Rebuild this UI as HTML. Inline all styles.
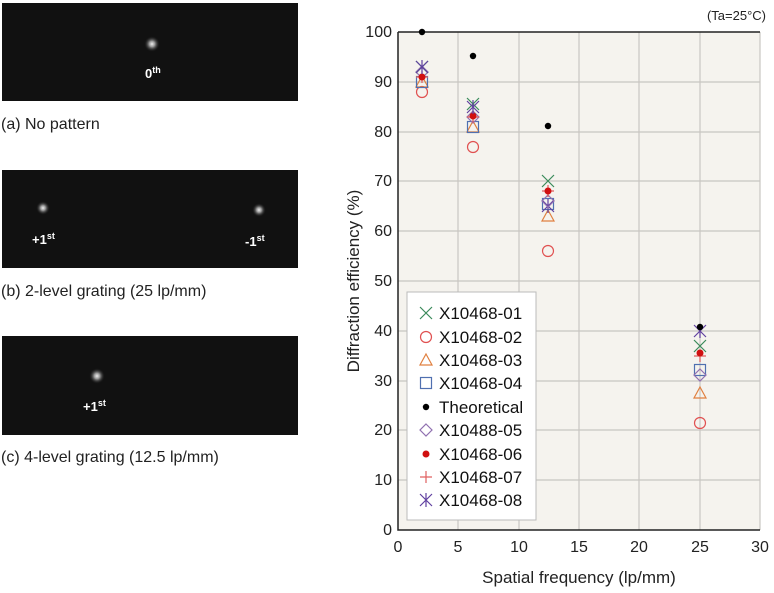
<!DOCTYPE html>
<html><head><meta charset="utf-8"><style>
body{margin:0;background:#fff;width:774px;height:588px;overflow:hidden;font-family:"Liberation Sans",sans-serif}
</style></head><body>
<svg width="774" height="588" xmlns="http://www.w3.org/2000/svg" font-family="Liberation Sans, DejaVu Sans, sans-serif">
<defs>
<radialGradient id="spot"><stop offset="0" stop-color="#eee"/><stop offset="0.35" stop-color="#999"/><stop offset="1" stop-color="#111" stop-opacity="0"/></radialGradient>
<g id="mX"><path d="M-6,-6L6,6M-6,6L6,-6" stroke="#3a8a5a" stroke-width="1.2" fill="none"/></g>
<g id="mO"><circle r="5.5" stroke="#e05050" stroke-width="1.2" fill="none"/></g>
<g id="mT"><path d="M0,-6L6,5L-6,5Z" stroke="#e08040" stroke-width="1.2" fill="none"/></g>
<g id="mS"><rect x="-5.5" y="-5.5" width="11" height="11" stroke="#5070b0" stroke-width="1.2" fill="none"/></g>
<g id="mB"><circle r="3.2" fill="#000"/></g>
<g id="mD"><path d="M0,-6L6,0L0,6L-6,0Z" stroke="#9070b0" stroke-width="1.2" fill="none"/></g>
<g id="mR"><circle r="3.5" fill="#d01010"/></g>
<g id="mP"><path d="M-6,0H6M0,-6V6" stroke="#e06060" stroke-width="1.2"/></g>
<g id="mA"><path d="M-6,-6L6,6M-6,6L6,-6M0,-7V7" stroke="#6040a0" stroke-width="1.2"/></g>
</defs>
<!-- images -->
<rect x="2" y="3" width="296" height="98" fill="#111"/>
<circle cx="152" cy="44" r="8" fill="url(#spot)"/>
<text x="145" y="78" fill="#fff" font-size="13" font-weight="bold">0<tspan font-size="9" dy="-5">th</tspan></text>
<text x="1" y="129" font-size="16" fill="#222">(a) No pattern</text>
<rect x="2" y="170" width="296" height="98" fill="#111"/>
<circle cx="43" cy="208" r="7" fill="url(#spot)"/>
<circle cx="259" cy="210" r="7" fill="url(#spot)"/>
<text x="32" y="244" fill="#fff" font-size="13" font-weight="bold">+1<tspan font-size="9" dy="-5">st</tspan></text>
<text x="245" y="246" fill="#fff" font-size="13" font-weight="bold">-1<tspan font-size="9" dy="-5">st</tspan></text>
<text x="1" y="296" font-size="16" fill="#222">(b) 2-level grating (25 lp/mm)</text>
<rect x="2" y="336" width="296" height="99" fill="#111"/>
<circle cx="97" cy="376" r="8" fill="url(#spot)"/>
<text x="83" y="411" fill="#fff" font-size="13" font-weight="bold">+1<tspan font-size="9" dy="-5">st</tspan></text>
<text x="1" y="462" font-size="16" fill="#222">(c) 4-level grating (12.5 lp/mm)</text>
<!-- chart -->
<rect x="398" y="32" width="362" height="498" fill="#f5f3ee"/>
<g stroke="#c8c6c2" stroke-width="1.2">
<path d="M458,32V530M519,32V530M579,32V530M639,32V530M700,32V530M760,32V530"/>
<path d="M398,82H760M398,132H760M398,181H760M398,231H760M398,281H760M398,331H760M398,381H760M398,430H760M398,480H760"/>
</g>
<path d="M398,32V530H760" stroke="#222" stroke-width="1.5" fill="none"/>
<path d="M398,32H760" stroke="#222" stroke-width="1.5"/>
<g font-size="16" fill="#222" text-anchor="end">
<text x="392" y="37">100</text><text x="392" y="87">90</text><text x="392" y="137">80</text><text x="392" y="186">70</text><text x="392" y="236">60</text><text x="392" y="286">50</text><text x="392" y="336">40</text><text x="392" y="386">30</text><text x="392" y="435">20</text><text x="392" y="485">10</text><text x="392" y="535">0</text>
</g>
<g font-size="16" fill="#222" text-anchor="middle">
<text x="398" y="552">0</text><text x="458" y="552">5</text><text x="519" y="552">10</text><text x="579" y="552">15</text><text x="639" y="552">20</text><text x="700" y="552">25</text><text x="760" y="552">30</text>
</g>
<text x="579" y="583" font-size="17" fill="#222" text-anchor="middle">Spatial frequency (lp/mm)</text>
<text transform="translate(359,281) rotate(-90)" font-size="17" fill="#222" text-anchor="middle">Diffraction efficiency (%)</text>
<text x="766" y="20" font-size="13" fill="#222" text-anchor="end">(Ta=25°C)</text>
<!-- data -->
<use href="#mO" x="422" y="92"/><use href="#mT" x="422" y="82"/><use href="#mS" x="422" y="82"/><use href="#mD" x="422" y="72"/><use href="#mP" x="422" y="77"/><use href="#mR" x="422" y="77"/><use href="#mX" x="422" y="67"/><use href="#mA" x="422" y="67"/><use href="#mB" x="422" y="32"/>
<use href="#mO" x="473" y="147"/><use href="#mT" x="473" y="127"/><use href="#mS" x="473" y="127"/><use href="#mD" x="473" y="117"/><use href="#mP" x="473" y="117"/><use href="#mR" x="473" y="116"/><use href="#mX" x="473" y="104"/><use href="#mA" x="473" y="107"/><use href="#mB" x="473" y="56"/>
<use href="#mO" x="548" y="251"/><use href="#mT" x="548" y="216"/><use href="#mS" x="548" y="204"/><use href="#mA" x="548" y="206"/><use href="#mD" x="548" y="201"/><use href="#mP" x="548" y="191"/><use href="#mR" x="548" y="191"/><use href="#mX" x="548" y="181"/><use href="#mB" x="548" y="126"/>
<use href="#mO" x="700" y="423"/><use href="#mT" x="700" y="393"/><use href="#mS" x="700" y="370"/><use href="#mD" x="700" y="375"/><use href="#mP" x="700" y="356"/><use href="#mR" x="700" y="353"/><use href="#mX" x="700" y="346"/><use href="#mA" x="700" y="331"/><use href="#mB" x="700" y="327"/>
<!-- legend -->
<rect x="407" y="292" width="129" height="228" fill="#fff" stroke="#bbb"/>
<g font-size="17" fill="#111">
<use href="#mX" x="426" y="313"/><text x="439" y="319">X10468-01</text>
<use href="#mO" x="426" y="337"/><text x="439" y="343">X10468-02</text>
<use href="#mT" x="426" y="360"/><text x="439" y="366">X10468-03</text>
<use href="#mS" x="426" y="383"/><text x="439" y="389">X10468-04</text>
<use href="#mB" x="426" y="407"/><text x="439" y="413">Theoretical</text>
<use href="#mD" x="426" y="430"/><text x="439" y="436">X10488-05</text>
<use href="#mR" x="426" y="454"/><text x="439" y="460">X10468-06</text>
<use href="#mP" x="426" y="477"/><text x="439" y="483">X10468-07</text>
<use href="#mA" x="426" y="500"/><text x="439" y="506">X10468-08</text>
</g>
</svg>
</body></html>
